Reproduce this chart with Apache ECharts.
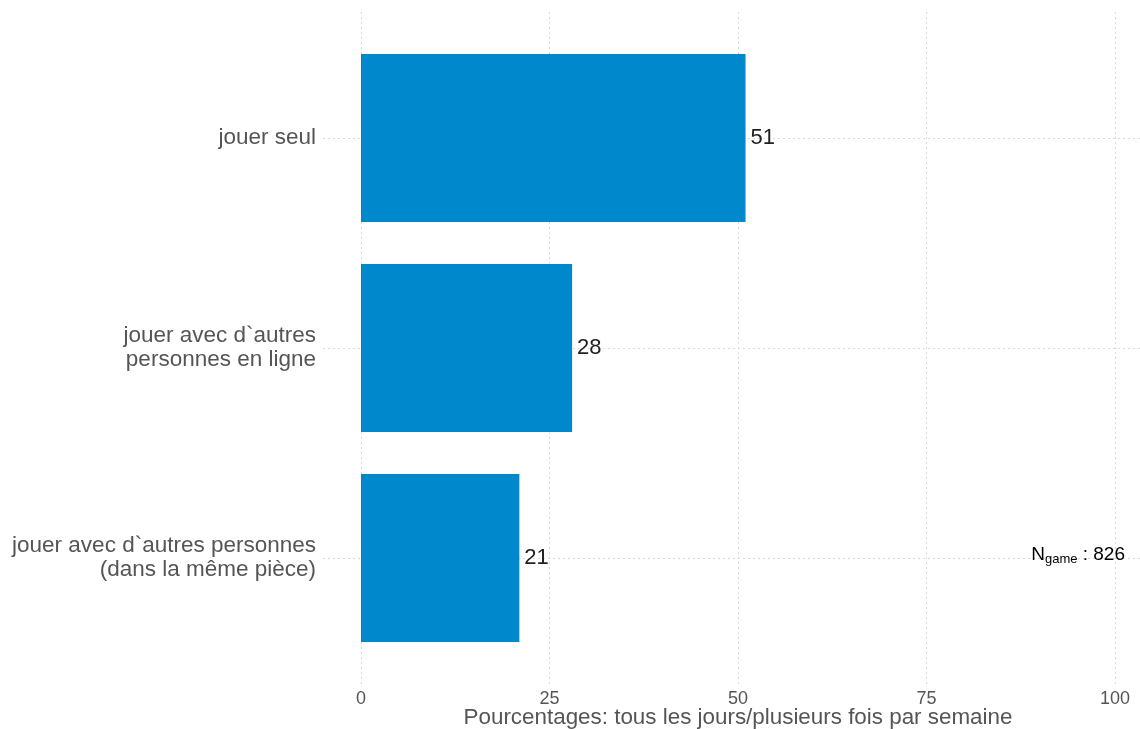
<!DOCTYPE html>
<html>
<head>
<meta charset="utf-8">
<script src="https://cdn.jsdelivr.net/npm/echarts@6/dist/echarts.min.js"></script>
<style>
  html, body { margin: 0; padding: 0; background: #fff; }
  #chart { width: 1140px; height: 729px; }
</style>
</head>
<body>
<div id="chart"></div>
<script>
// catégories et valeurs (pourcentages)
const categories = ['jouer seul', 'jouer avec d`autres\npersonnes en ligne', 'jouer avec d`autres personnes\n(dans la même pièce)']
const values = [51, 28, 21]
const xTicks = [0, 25, 50, 75, 100]
const nGame = 826

const font = 'Liberation Sans, Arial, Helvetica, sans-serif'
const gridLine = { type: [2, 3], color: '#d9d9d9', width: 1 }

const chart = echarts.init(document.getElementById('chart'))
chart.setOption({
  animation: false,
  textStyle: { fontFamily: font },
  grid: [
    // barres
    { left: 361, right: 25, top: 33, bottom: 66, outerBoundsMode: 'none' },
    // lignes verticales + étiquettes de l'axe x
    { left: 361, right: 25, top: 12, bottom: 45, outerBoundsMode: 'none' },
    // lignes horizontales au centre des catégories
    { left: 323, right: 0, top: 138, bottom: 171, outerBoundsMode: 'none' }
  ],
  xAxis: [{
    gridIndex: 0,
    type: 'value',
    min: 0,
    max: 100,
    show: false
  }, {
    gridIndex: 1,
    type: 'value',
    min: xTicks[0],
    max: xTicks[xTicks.length - 1],
    interval: 25,
    axisLine: { show: false },
    axisTick: { show: false },
    splitLine: { show: true, lineStyle: gridLine },
    axisLabel: { color: '#555', fontSize: 18, margin: 6 },
    name: 'Pourcentages: tous les jours/plusieurs fois par semaine',
    nameLocation: 'middle',
    nameMoveOverlap: false,
    nameGap: 23,
    nameTextStyle: { color: '#555', fontSize: 22.4 }
  }, {
    gridIndex: 2,
    type: 'value',
    min: 0,
    max: 1,
    show: false
  }],
  yAxis: [{
    gridIndex: 0,
    type: 'category',
    inverse: true,
    data: categories,
    axisLine: { show: false },
    axisTick: { show: false },
    axisLabel: { color: '#555', fontSize: 22.5, lineHeight: 24, margin: 45, padding: [8, 0, 0, 0] }
  }, {
    gridIndex: 1,
    type: 'value',
    show: false
  }, {
    gridIndex: 2,
    type: 'value',
    min: 0,
    max: 2,
    interval: 1,
    axisLine: { show: false },
    axisTick: { show: false },
    axisLabel: { show: false },
    splitLine: { show: true, lineStyle: gridLine }
  }],
  series: [{
    type: 'bar',
    xAxisIndex: 0,
    yAxisIndex: 0,
    data: values,
    barCategoryGap: '20%',
    z: 5,
    itemStyle: { color: '#0088cc' },
    label: {
      show: true,
      position: 'right',
      distance: 5,
      color: '#222',
      fontSize: 22
    }
  }],
  graphic: [{
    type: 'text',
    right: 15,
    top: 545,
    z: 10,
    style: {
      text: '{a|N}{b|game}{a| : ' + nGame + '}',
      rich: {
        a: { fontSize: 19, color: '#222', fontFamily: font },
        b: { fontSize: 13, color: '#222', fontFamily: font, verticalAlign: 'bottom', padding: [9, 0, 0, 0] }
      }
    }
  }]
})
</script>
</body>
</html>
